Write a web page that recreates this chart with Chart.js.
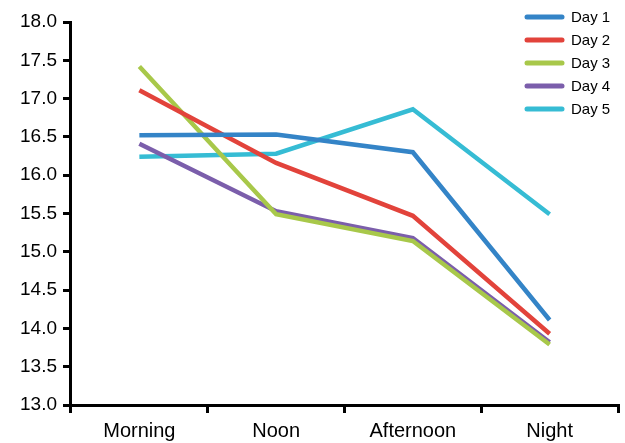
<!DOCTYPE html>
<html>
<head>
<meta charset="utf-8">
<script src="https://cdn.jsdelivr.net/npm/chart.js@4/dist/chart.umd.min.js"></script>
<style>
html,body{margin:0;padding:0;background:#fff;}
#wrap{width:625px;height:443px;}
</style>
</head>
<body>
<div id="wrap"><canvas id="c" width="625" height="443"></canvas></div>
<script>
const categories = ["Morning", "Noon", "Afternoon", "Night"];
const seriesNames = ["Day 1", "Day 2", "Day 3", "Day 4", "Day 5"];
const day1 = [16.52, 16.53, 16.30, 14.11];
const day2 = [17.11, 16.16, 15.47, 13.93];
const day3 = [17.42, 15.49, 15.14, 13.79];
const day4 = [16.41, 15.53, 15.18, 13.82];
const day5 = [16.24, 16.28, 16.86, 15.49];
const yTickMin = 13.0, yTickMax = 18.0, yTickStep = 0.5;

const seriesValues = [day1, day2, day3, day4, day5];
const colors = ["#3484c7", "#e2433b", "#a8c84a", "#7b5eab", "#36bcd4"];
const FONT = "'Liberation Sans', Arial, Helvetica, sans-serif";

const legendPlugin = {
  id: 'customLegend',
  afterDraw(chart) {
    const ctx = chart.ctx;
    ctx.save();
    chart.data.datasets.forEach((ds, i) => {
      const y = 17 + i * 23;
      ctx.strokeStyle = ds.borderColor;
      ctx.lineWidth = 5;
      ctx.lineCap = 'round';
      ctx.beginPath();
      ctx.moveTo(527, y);
      ctx.lineTo(562, y);
      ctx.stroke();
      ctx.fillStyle = '#000';
      ctx.font = "15px " + FONT;
      ctx.textBaseline = 'middle';
      ctx.fillText(ds.label, 571, y + 1);
    });
    ctx.restore();
  }
};

new Chart(document.getElementById('c'), {
  type: 'line',
  data: {
    labels: categories,
    datasets: seriesNames.map((n, i) => ({
      label: n,
      data: seriesValues[i],
      borderColor: colors[i],
      backgroundColor: colors[i],
      borderWidth: 4.5,
      pointRadius: 0,
      tension: 0,
      fill: false
    }))
  },
  options: {
    responsive: false,
    animation: false,
    layout: { padding: { top: 22, right: 7, left: 14, bottom: -6 } },
    plugins: { legend: { display: false }, tooltip: { enabled: false } },
    scales: {
      x: {
        offset: true,
        grid: { offset: true, drawOnChartArea: false, drawTicks: true, tickLength: 8, lineWidth: 3, color: '#000' },
        border: { display: true, width: 3, color: '#000' },
        ticks: { color: '#000', font: { family: FONT, size: 20 }, padding: 6 }
      },
      y: {
        min: yTickMin, max: yTickMax,
        grid: { drawOnChartArea: false, drawTicks: true, tickLength: 8, lineWidth: 3, color: '#000' },
        border: { display: true, width: 3, color: '#000' },
        ticks: { stepSize: yTickStep, color: '#000', font: { family: FONT, size: 19 }, padding: 6,
                 callback: v => Number(v).toFixed(1) }
      }
    }
  },
  plugins: [legendPlugin]
});
</script>
</body>
</html>
